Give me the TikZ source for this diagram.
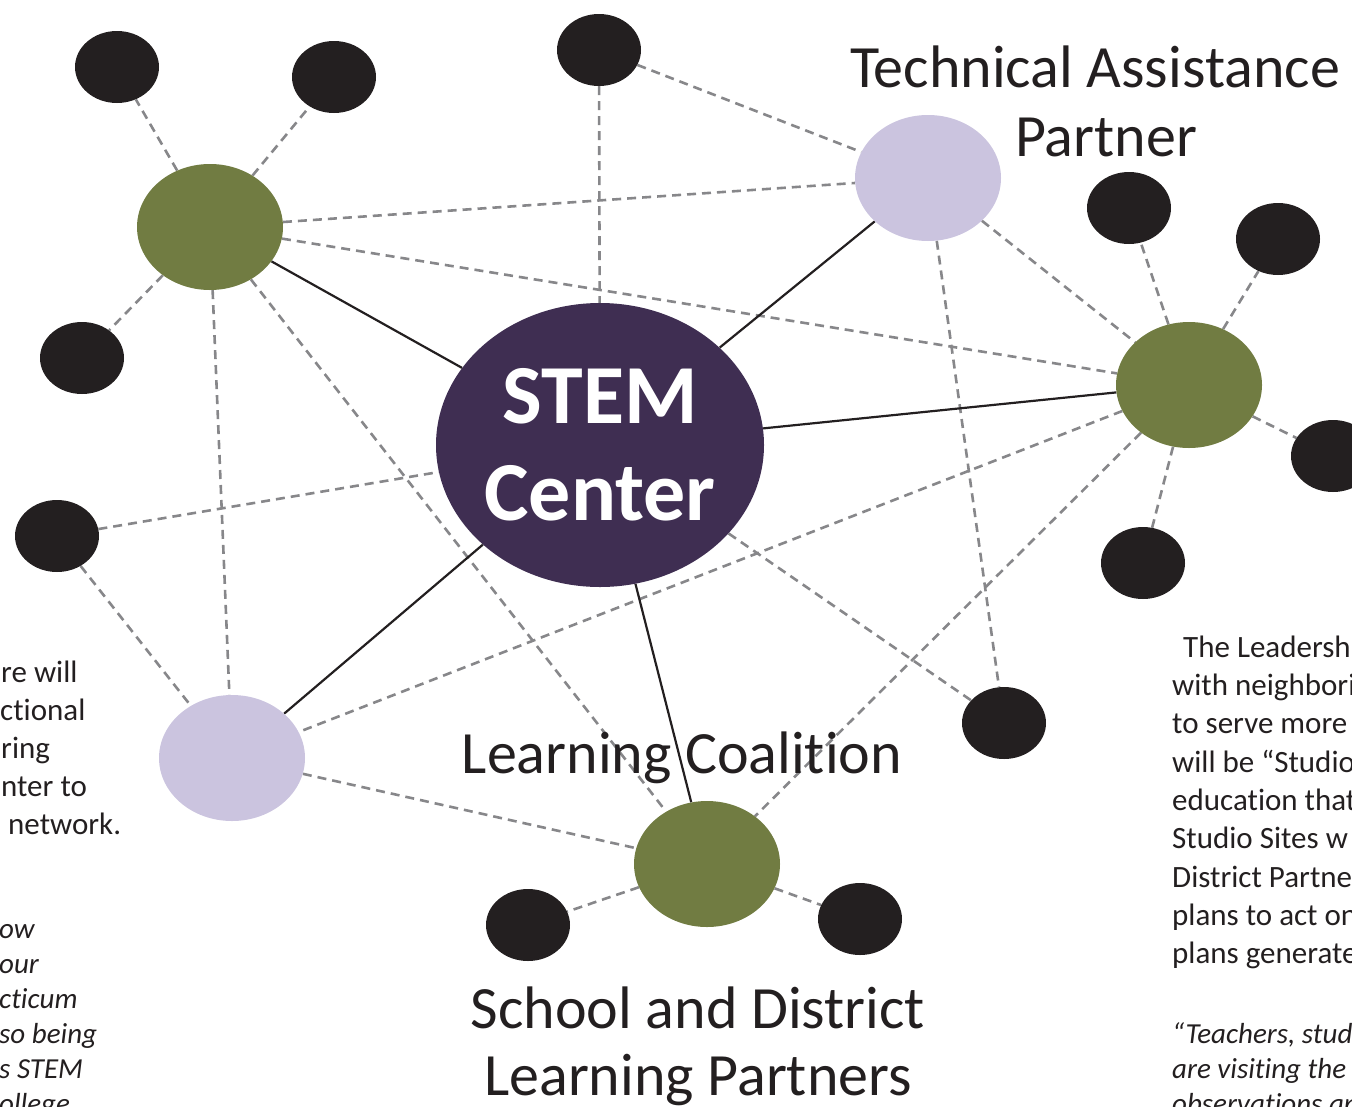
\documentclass[tikz,border=0pt]{standalone}
\usepackage{fontspec}
\setmainfont[Ligatures=NoCommon]{Carlito}
\usetikzlibrary{shapes.geometric,backgrounds}
\definecolor{stempurple}{HTML}{3F2E52}
\definecolor{olive}{HTML}{717C42}
\definecolor{lavender}{HTML}{CBC4DF}
\definecolor{nearblack}{HTML}{231F20}
\definecolor{dashgray}{HTML}{87878A}
\tikzset{
  hub/.style={ellipse, fill=stempurple, minimum width=328pt, minimum height=284pt, inner sep=0pt,
    text=white, align=center, font=\fontsize{84}{97}\selectfont\bfseries},
  greennode/.style={ellipse, fill=olive, minimum width=146pt, minimum height=126pt, inner sep=0pt},
  lavnode/.style={ellipse, fill=lavender, minimum width=146pt, minimum height=126pt, inner sep=0pt},
  blacknode/.style={ellipse, fill=nearblack, minimum width=84pt, minimum height=72pt, inner sep=0pt},
  solidlink/.style={draw=nearblack, line width=2.2pt},
  dashlink/.style={draw=dashgray, line width=2.6pt, dash pattern=on 9pt off 6pt},
  headlbl/.style={text=nearblack, inner sep=0pt, anchor=base, font=\fontsize{60}{72}\selectfont},
  bodytxt/.style={text=nearblack, inner sep=0pt, anchor=base west, font=\fontsize{31}{38}\selectfont},
  italtxt/.style={text=nearblack, inner sep=0pt, anchor=base west, font=\fontsize{29}{35}\selectfont\itshape}
}
\begin{document}
\begin{tikzpicture}[x=1pt,y=-1pt]
\useasboundingbox (0,0) rectangle (1352,1106);
\clip (0,0) rectangle (1352,1106);

% main nodes
\node[hub] (stem) at (600,445) {STEM\\Center};
\node[greennode] (g1) at (210,227) {};
\node[greennode] (g2) at (1189,385) {};
\node[greennode] (g3) at (707,864) {};
\node[lavnode] (l1) at (928,178) {};
\node[lavnode] (l2) at (232,758) {};

% black satellite nodes
\node[blacknode] (b1) at (117,67) {};
\node[blacknode] (b2) at (334,77) {};
\node[blacknode] (b3) at (82,358) {};
\node[blacknode] (b4) at (599,50) {};
\node[blacknode] (b5) at (57,536) {};
\node[blacknode] (b6) at (1129,208) {};
\node[blacknode] (b7) at (1278,239) {};
\node[blacknode] (b8) at (1333,456) {};
\node[blacknode] (b9) at (1143,563) {};
\node[blacknode] (b10) at (1004,723) {};
\node[blacknode] (b11) at (528,925) {};
\node[blacknode] (b12) at (860,919) {};

% connectors
\begin{scope}[on background layer]
  \draw[dashlink] (g1) -- (b1);
  \draw[dashlink] (g1) -- (b2);
  \draw[dashlink] (g1) -- (b3);
  \draw[dashlink] (g1) -- (l1);
  \draw[dashlink] (g1) -- (g2);
  \draw[dashlink] (g1) -- (l2);
  \draw[dashlink] (g1) -- (g3);
  \draw[dashlink] (b4) -- (stem);
  \draw[dashlink] (b4) -- (l1);
  \draw[dashlink] (l1) -- (g2);
  \draw[dashlink] (l1) -- (b10);
  \draw[dashlink] (g2) -- (b6);
  \draw[dashlink] (g2) -- (b7);
  \draw[dashlink] (g2) -- (b8);
  \draw[dashlink] (g2) -- (b9);
  \draw[dashlink] (g2) -- (l2);
  \draw[dashlink] (g2) -- (g3);
  \draw[dashlink] (stem) -- (b10);
  \draw[dashlink] (b5) -- (stem);
  \draw[dashlink] (b5) -- (l2);
  \draw[dashlink] (l2) -- (g3);
  \draw[dashlink] (g3) -- (b11);
  \draw[dashlink] (g3) -- (b12);
  \draw[solidlink] (stem) -- (g1);
  \draw[solidlink] (stem) -- (l1);
  \draw[solidlink] (stem) -- (g2);
  \draw[solidlink] (stem) -- (l2);
  \draw[solidlink] (stem) -- (g3);
\end{scope}

% headings
\node[headlbl] (tah1) at (1095,87) {Technical Assistance};
\node[headlbl] (tah2) at (1106,156) {Partner};
\node[headlbl] (lc) at (682,773) {Learning Coalit\kern0pt ion};
\node[headlbl] (sd1) at (698,1028) {School and District};
\node[headlbl] (sd2) at (698,1095) {Learning Partners};

% left paragraph (clipped by the picture edge)
\node[bodytxt] (lp1) at (1,682) {re will};
\node[bodytxt] (lp2) at (0,720) {ctional};
\node[bodytxt] (lp3) at (1,758) {ring};
\node[bodytxt] (lp4) at (1,796) {nter to};
\node[bodytxt] (lp5) at (8,834) {network.};

% left italic (clipped by the picture edge)
\node[italtxt] (li1) at (-1,938) {ow};
\node[italtxt] (li2) at (-1,973) {our};
\node[italtxt] (li3) at (-1,1008) {cticum};
\node[italtxt] (li4) at (-1,1043) {so being};
\node[italtxt] (li5) at (-1,1078) {s STEM};
\node[italtxt] (li6) at (-1,1113) {ollege};

% right paragraph (clipped by the picture edge)
\node[bodytxt] (rp1) at (1183,657) {The Leadership};
\node[bodytxt] (rp2) at (1172,695) {with neighboring};
\node[bodytxt] (rp3) at (1172,733) {to serve more};
\node[bodytxt] (rp4) at (1172,772) {will be “Studio};
\node[bodytxt] (rp5) at (1172,810) {education that};
\node[bodytxt] (rp6) at (1172,848) {Studio Sites w};
\node[bodytxt] (rp7) at (1172,887) {District Partner};
\node[bodytxt] (rp8) at (1172,925) {plans to act on};
\node[bodytxt] (rp9) at (1172,963) {plans generated};

% right italic (clipped by the picture edge)
\node[italtxt] (ri1) at (1172,1043) {“Teachers, students};
\node[italtxt] (ri2) at (1172,1078) {are visiting the t};
\node[italtxt] (ri3) at (1172,1113) {observations and};
\end{tikzpicture}
\end{document}
